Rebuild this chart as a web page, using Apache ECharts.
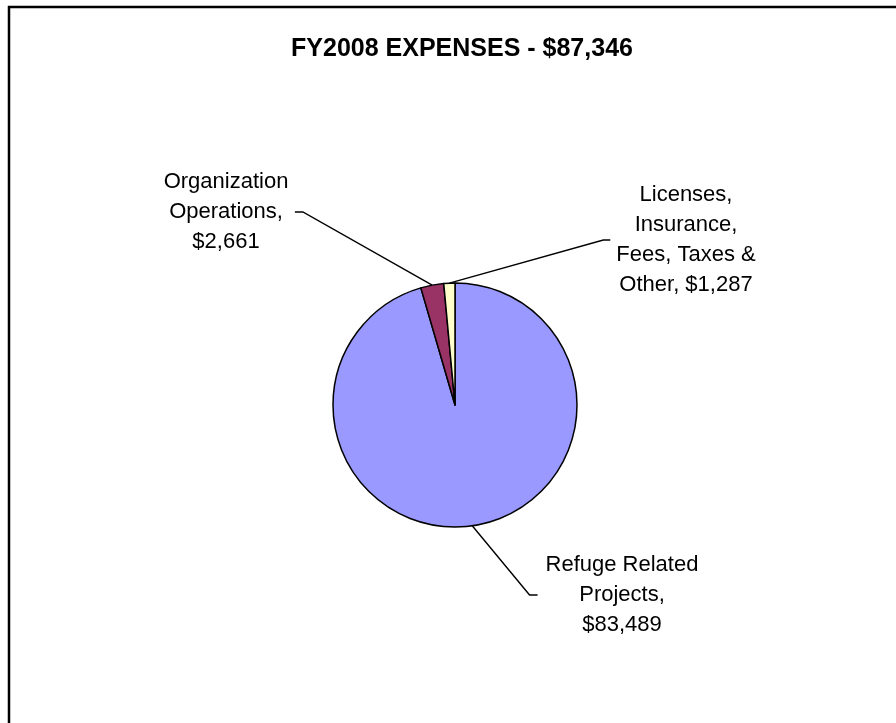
<!DOCTYPE html>
<html>
<head>
<meta charset="utf-8">
<script src="https://cdn.jsdelivr.net/npm/echarts@6/dist/echarts.min.js"></script>
<style>
  html, body { margin: 0; padding: 0; background: #fff; }
  #chart { width: 896px; height: 723px; }
</style>
</head>
<body>
<div id="chart"></div>
<script>
// ---- data ----
const titleText = 'FY2008 EXPENSES - $87,346';
const categories = ['Refuge Related Projects', 'Organization Operations', 'Licenses, Insurance, Fees, Taxes & Other'];
const values = [83489, 2661, 1287];
const colors = ['#9999FF', '#993366', '#FFFFCC'];

// ---- label layout (positions / wrapping only) ----
const labelLayoutCfg = [
  { x: 622, y: 595, wordsPerLine: [2, 1, 1],    side: 'left',  gap: 8,   tail: 8 },
  { x: 226, y: 212, wordsPerLine: [1, 1, 1],    side: 'right', gap: 6.5, tail: 8 },
  { x: 686, y: 240, wordsPerLine: [1, 1, 3, 2], side: 'left',  gap: 6,   tail: 7 }
];

function wrapWords(text, counts) {
  const words = text.split(' ');
  const lines = [];
  let k = 0;
  counts.forEach(n => { lines.push(words.slice(k, k + n).join(' ')); k += n; });
  if (k < words.length) lines.push(words.slice(k).join(' '));
  return lines.join('\n');
}

const chart = echarts.init(document.getElementById('chart'), null, { renderer: 'canvas' });

const option = {
  animation: false,
  backgroundColor: '#ffffff',
  title: {
    text: titleText,
    left: 457,
    top: 32,
    textAlign: 'center',
    textStyle: {
      fontFamily: 'Liberation Sans, Arial, sans-serif',
      fontSize: 25,
      fontWeight: 'bold',
      color: '#000'
    }
  },
  graphic: [{
    type: 'rect',
    silent: true,
    shape: { x: 9, y: 7, width: 1000, height: 1000 },
    style: { fill: 'none', stroke: '#000', lineWidth: 2.5 }
  }],
  series: [{
    type: 'pie',
    center: [455, 405],
    radius: 122,
    startAngle: 90,
    clockwise: true,
    avoidLabelOverlap: false,
    data: categories.map((c, i) => ({
      name: c,
      value: values[i],
      itemStyle: { color: colors[i] }
    })),
    itemStyle: { borderColor: '#000', borderWidth: 1.5 },
    label: {
      show: true,
      position: 'outside',
      formatter: p => wrapWords(p.name + ', $' + p.value.toLocaleString('en-US'),
                                labelLayoutCfg[p.dataIndex].wordsPerLine),
      align: 'center',
      fontFamily: 'Liberation Sans, Arial, sans-serif',
      fontSize: 22,
      lineHeight: 30,
      color: '#000'
    },
    labelLine: {
      show: true,
      length: 20,
      length2: 10,
      lineStyle: { color: '#000', width: 1.4 }
    },
    labelLayout: function (params) {
      const cfg = labelLayoutCfg[params.dataIndex];
      const r = params.labelRect;
      const halfW = r.width / 2;
      const ex = cfg.side === 'left' ? cfg.x - halfW - cfg.gap : cfg.x + halfW + cfg.gap;
      const bx = cfg.side === 'left' ? ex - cfg.tail : ex + cfg.tail;
      const res = { x: cfg.x, y: cfg.y, align: 'center', verticalAlign: 'middle' };
      if (params.labelLinePoints) {
        const p0 = params.labelLinePoints[0];
        res.labelLinePoints = [[p0[0], p0[1]], [bx, cfg.y], [ex, cfg.y]];
      }
      return res;
    },
    emphasis: { disabled: true }
  }]
};

chart.setOption(option);
</script>
</body>
</html>
